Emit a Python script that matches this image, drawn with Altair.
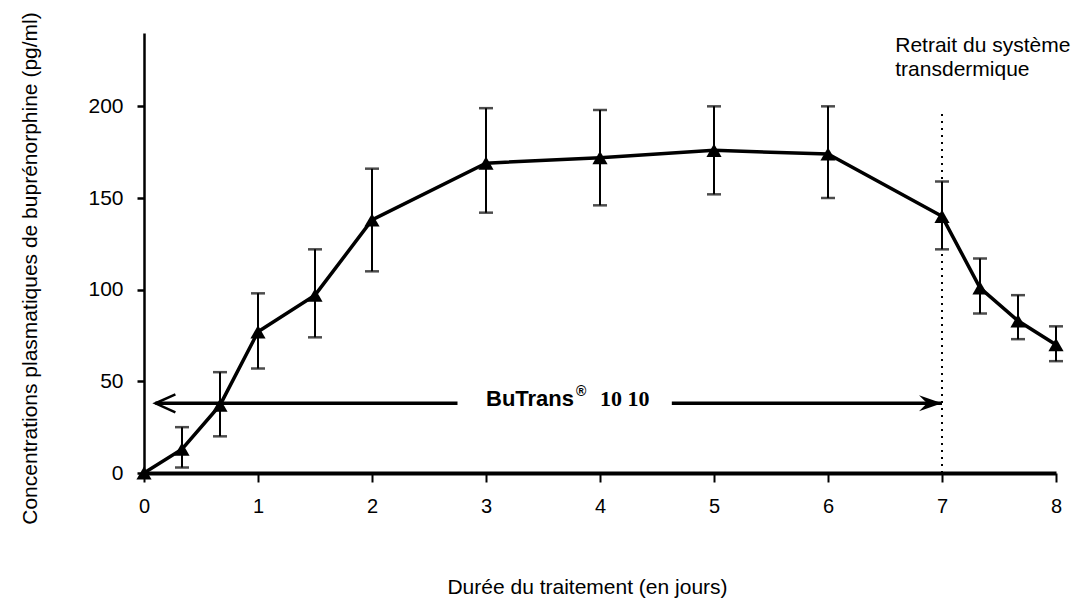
import altair as alt
import pandas as pd

# ---- data ----
days = [0, 1/3, 2/3, 1, 1.5, 2, 3, 4, 5, 6, 7, 22/3, 23/3, 8]
mean_conc = [0, 13, 37, 77, 97, 138, 169, 172, 176, 174, 140, 101, 83, 70]
err_high = [None, 25, 55, 98, 122, 166, 199, 198, 200, 200, 159, 117, 97, 80]
err_low = [None, 3, 20, 57, 74, 110, 142, 146, 152, 150, 122, 87, 73, 61]

x_ticks = [0, 1, 2, 3, 4, 5, 6, 7, 8]
y_ticks = [0, 50, 100, 150, 200]

removal_day = [7]
removal_top = [198]
arrow_level = 38
arrow_seg_start = [0.1, 4.63]
arrow_seg_end = [2.75, 7.0]

label_font = "Liberation Sans"

df = pd.DataFrame({"day": days, "conc": mean_conc, "hi": err_high, "lo": err_low})
df_err = df.dropna()

xscale = alt.Scale(domain=[0, 8], nice=False, zero=False)
yscale = alt.Scale(domain=[0, 240], nice=False)

xaxis = alt.Axis(values=x_ticks, format="d", grid=False, domainColor="black", domainWidth=4,
                 tickColor="black", tickWidth=2, tickSize=9, labelFontSize=20, labelFont=label_font,
                 labelColor="black", labelPadding=14, labelFlush=False,
                 title="Durée du traitement (en jours)", titleFont=label_font, titleFontSize=21,
                 titleFontWeight="normal", titleColor="black", titleX=443, titleY=120,
                 titleBaseline="alphabetic", titleAlign="center")
yaxis = alt.Axis(values=y_ticks, grid=False, domainColor="black", domainWidth=2.5,
                 tickColor="black", tickWidth=2.5, tickSize=7, labelFontSize=21, labelFont=label_font,
                 labelColor="black", labelPadding=14,
                 title="Concentrations plasmatiques de buprénorphine (pg/ml)", titleFont=label_font,
                 titleFontSize=21, titleFontWeight="normal", titleColor="black", titleAngle=270,
                 titleX=-114, titleY=235, titleBaseline="middle", titleAlign="center")

base = alt.Chart(df)

line = base.mark_line(color="black", strokeWidth=3.5).encode(
    x=alt.X("day:Q", scale=xscale, axis=xaxis),
    y=alt.Y("conc:Q", scale=yscale, axis=yaxis),
)

err_rule = alt.Chart(df_err).mark_rule(color="black", strokeWidth=2).encode(
    x="day:Q", y="lo:Q", y2="hi:Q"
)
cap_hi = alt.Chart(df_err).mark_tick(color="black", orient="horizontal", size=14, thickness=2.5).encode(
    x="day:Q", y="hi:Q"
)
cap_lo = alt.Chart(df_err).mark_tick(color="black", orient="horizontal", size=14, thickness=2.5).encode(
    x="day:Q", y="lo:Q"
)

points = base.mark_point(shape="triangle-up", filled=True, color="black", size=230, opacity=1).encode(
    x="day:Q", y="conc:Q"
)

df_removal = pd.DataFrame({"day": removal_day, "y0": [0], "y1": removal_top})
removal = alt.Chart(df_removal).mark_rule(color="black", strokeWidth=2, strokeDash=[2, 5]).encode(
    x="day:Q", y="y0:Q", y2="y1:Q"
)

df_arrow = pd.DataFrame({"x0": arrow_seg_start, "x1": arrow_seg_end, "y": [arrow_level] * 2})
arrow_lines = alt.Chart(df_arrow).mark_rule(color="black", strokeWidth=3.5).encode(
    x="x0:Q", x2="x1:Q", y="y:Q"
)

df_head_l = pd.DataFrame({"x": [arrow_seg_start[0]], "y": [arrow_level]})
head_l = alt.Chart(df_head_l).mark_point(
    shape="M 2 -0.9 L 0 0 L 2 0.9", filled=False, color="black", strokeWidth=2.5, size=400, opacity=1
).encode(x="x:Q", y="y:Q")

df_head_r = pd.DataFrame({"x": [arrow_seg_end[1]], "y": [arrow_level]})
head_r = alt.Chart(df_head_r).mark_point(
    shape="M 0 0 L -2.3 -0.8 L -1.5 0 L -2.3 0.8 Z", filled=True, color="black", size=400, opacity=1
).encode(x="x:Q", y="y:Q")

df_brand = pd.DataFrame({"x": [3.0], "y": [36.6], "t": ["BuTrans"]})
brand = alt.Chart(df_brand).mark_text(
    font=label_font, fontSize=22, fontWeight="bold", align="left", baseline="alphabetic", color="black"
).encode(x="x:Q", y="y:Q", text="t:N")

df_reg = pd.DataFrame({"x": [3.79], "y": [36.6], "t": ["®"]})
reg = alt.Chart(df_reg).mark_text(
    font=label_font, fontSize=14, fontWeight="bold", align="left", baseline="alphabetic", dy=-10, color="black"
).encode(x="x:Q", y="y:Q", text="t:N")

df_dose = pd.DataFrame({"x": [4.0], "y": [36.6], "t": ["10 10"]})
dose = alt.Chart(df_dose).mark_text(
    font="Liberation Serif", fontSize=22, fontWeight="bold", align="left", baseline="alphabetic", color="black"
).encode(x="x:Q", y="y:Q", text="t:N")

df_note = pd.DataFrame({"x": [6.59, 6.59], "y": [229.5, 216.4], "t": ["Retrait du système", "transdermique"]})
note = alt.Chart(df_note).mark_text(
    font=label_font, fontSize=21, align="left", baseline="alphabetic", color="black"
).encode(x="x:Q", y="y:Q", text="t:N")

chart = alt.layer(
    line, err_rule, cap_hi, cap_lo, points, removal, arrow_lines, head_l, head_r, brand, reg, dose, note
).properties(
    width=912, height=440,
    autosize=alt.AutoSizeParams(type="none"),
    padding={"left": 144, "top": 33, "right": 20, "bottom": 127},
    background="white",
).configure_view(stroke=None)

chart.save("out.html", embed_options={"renderer": "svg", "actions": False})
